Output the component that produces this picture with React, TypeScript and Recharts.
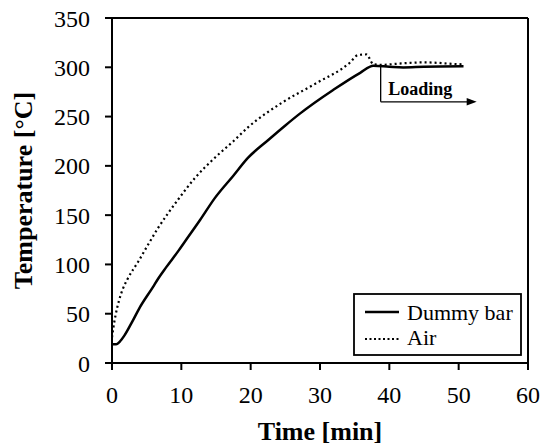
import { LineChart, Line, XAxis, YAxis, ReferenceLine } from "recharts"

// Time [min] and temperature [°C]
const dummyTime = [0, 0.6, 1.1, 1.8, 3, 3.9, 5.9, 6.65, 7.8, 9.6, 10.5, 12.7, 14.8, 17.5, 19.6, 22.5, 25, 27.1, 31.9, 35.8, 37.7, 40, 42, 45, 50.7]
const dummyTemp = [19, 19, 21.5, 28, 43, 55, 77, 85.5, 97, 114, 123, 145, 167, 190, 208, 226, 241, 253, 277, 294.4, 301.5, 300.5, 299.8, 300.5, 301]

const airTime = [0, 0.2, 0.5, 1, 1.5, 2.3, 3.8, 5.2, 6.65, 8.1, 9.5, 12, 14.8, 17.5, 19.6, 24.5, 29.5, 34.3, 35.5, 36.7, 37.7, 39, 41, 43, 45, 47, 49, 50.7]
const airTemp = [26, 36, 48, 63, 74, 86, 103, 120, 137, 152, 165.5, 188, 208, 225, 239, 264, 284, 304.6, 312.5, 313, 303, 302.5, 303.5, 304.5, 305, 304.5, 303.5, 303]

const xTicks = [0, 10, 20, 30, 40, 50, 60]
const yTicks = [0, 50, 100, 150, 200, 250, 300, 350]

// "Loading" marker: starts at end of heating, runs to the right
const loadingStart = 38.75
const loadingEnd = 52.6
const loadingTop = 301
const loadingLevel = 265

const dummyData = dummyTime.map((t, i) => ({ t, v: dummyTemp[i] }))
const airData = airTime.map((t, i) => ({ t, v: airTemp[i] }))

const font = "'Liberation Serif', 'Times New Roman', serif"

function LegendBox() {
  return (
    <svg width={170} height={64} style={{ display: "block" }}>
      <rect x={1} y={1} width={167} height={61} fill="#fff" stroke="#000" strokeWidth={1.8} />
      <line x1={12} y1={19} x2={46} y2={19} stroke="#000" strokeWidth={2.5} />
      <text x={54} y={27} fontFamily={font} fontSize={22} fill="#000">Dummy bar</text>
      <line x1={12} y1={46} x2={46} y2={46} stroke="#000" strokeWidth={2} strokeDasharray="2 2.5" />
      <text x={54} y={51.5} fontFamily={font} fontSize={22} fill="#000">Air</text>
    </svg>
  )
}

function LoadingArrow(props: any) {
  const { x1, y1, x2, y2 } = props
  return (
    <g>
      <line x1={x1} y1={y1} x2={x2 - 8} y2={y2} stroke="#000" strokeWidth={1.3} />
      <polygon points={`${x2},${y2} ${x2 - 10},${y2 - 3.8} ${x2 - 10},${y2 + 3.8}`} fill="#000" />
      <text x={x1 + 7.5} y={y1 - 6.5} fontFamily={font} fontSize={18} fontWeight="bold" fill="#000">
        Loading
      </text>
    </g>
  )
}

const XTick = (p: any) => (
  <text x={p.x} y={p.y} dy="0.71em" textAnchor="middle" fontFamily={font} fontSize={24} fill="#000">
    {p.payload.value}
  </text>
)

const YTick = (p: any) => (
  <text x={p.x} y={p.y} dy="0.355em" textAnchor="end" fontFamily={font} fontSize={24} fill="#000">
    {p.payload.value}
  </text>
)

export default function App() {
  return (
    <div style={{ position: "absolute", left: 0, top: 0, width: 541, height: 446, background: "#fff", fontFamily: font }}>
      <LineChart width={541} height={446} margin={{ top: 18, right: 13, bottom: 0, left: 0 }}>
        <XAxis
          dataKey="t"
          type="number"
          domain={[0, 60]}
          ticks={xTicks}
          allowDataOverflow
          height={83}
          stroke="#000"
          axisLine={{ stroke: "#000", strokeWidth: 2 }}
          tickLine={{ stroke: "#000", strokeWidth: 2 }}
          tickSize={7}
          tickMargin={16}
          tick={XTick}
          label={{ value: "Time [min]", position: "insideBottom", offset: 6, fill: "#000", fontSize: 26, fontWeight: "bold", fontFamily: font }}
        />
        <YAxis
          dataKey="v"
          type="number"
          domain={[0, 350]}
          ticks={yTicks}
          width={112}
          stroke="#000"
          axisLine={{ stroke: "#000", strokeWidth: 2 }}
          tickLine={{ stroke: "#000", strokeWidth: 2 }}
          tickSize={7}
          tickMargin={15}
          tick={YTick}
          label={({ viewBox }: any) => {
            const cy = viewBox.y + viewBox.height / 2
            const x = 32
            return (
              <text x={x} y={cy} transform={`rotate(-90 ${x} ${cy})`} textAnchor="middle" fontFamily={font} fontSize={26} fontWeight="bold" fill="#000">
                Temperature [°C]
              </text>
            )
          }}
        />
        <ReferenceLine y={350} stroke="#000" strokeWidth={2} />
        <ReferenceLine x={60} stroke="#000" strokeWidth={2} />
        <ReferenceLine
          segment={[{ x: loadingStart, y: loadingTop }, { x: loadingStart, y: loadingLevel }]}
          stroke="#000"
          strokeWidth={1.3}
        />
        <ReferenceLine
          segment={[{ x: loadingStart, y: loadingLevel }, { x: loadingEnd, y: loadingLevel }]}
          shape={LoadingArrow}
        />
        <Line
          data={dummyData}
          dataKey="v"
          name="Dummy bar"
          type="monotone"
          stroke="#000"
          strokeWidth={2.5}
          dot={false}
          isAnimationActive={false}
        />
        <Line
          data={airData}
          dataKey="v"
          name="Air"
          type="monotone"
          stroke="#000"
          strokeWidth={2.2}
          strokeDasharray="2 3"
          dot={false}
          isAnimationActive={false}
        />
      </LineChart>
      <div style={{ position: "absolute", left: 353, top: 293 }}>
        <LegendBox />
      </div>
    </div>
  )
}
